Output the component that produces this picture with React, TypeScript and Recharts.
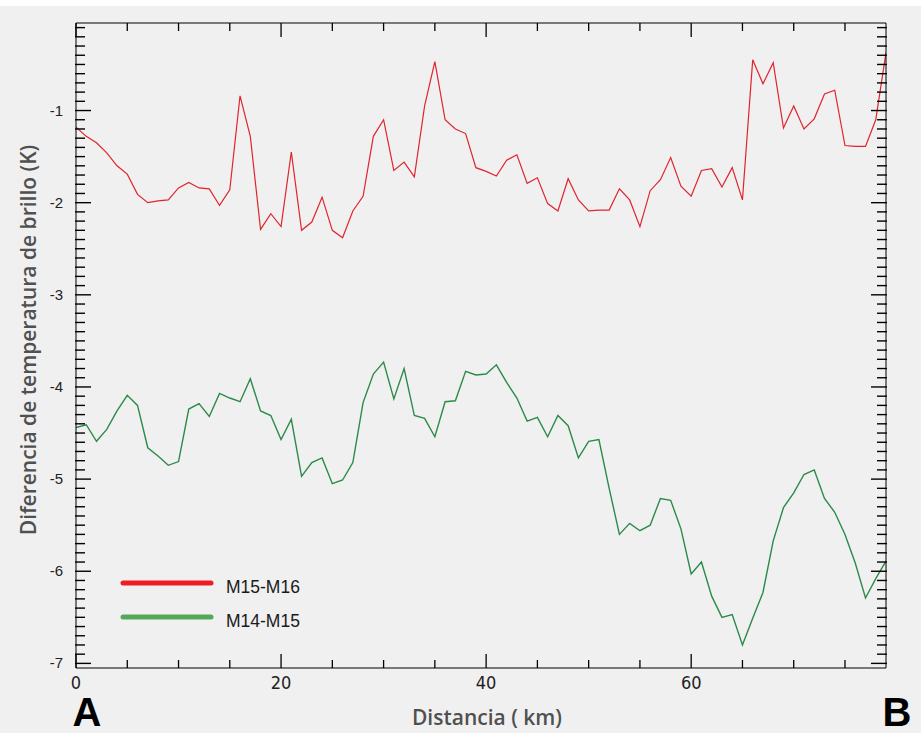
import { LineChart, Line, XAxis, YAxis, Legend } from "recharts";

// distance along the A-B transect (km)
const distanciaKm = [
  0, 1, 2, 3, 4, 5, 6, 7, 8, 9, 10, 11, 12, 13, 14, 15, 16, 17, 18, 19,
  20, 21, 22, 23, 24, 25, 26, 27, 28, 29, 30, 31, 32, 33, 34, 35, 36, 37, 38, 39,
  40, 41, 42, 43, 44, 45, 46, 47, 48, 49, 50, 51, 52, 53, 54, 55, 56, 57, 58, 59,
  60, 61, 62, 63, 64, 65, 66, 67, 68, 69, 70, 71, 72, 73, 74, 75, 76, 77, 78, 79,
];

// brightness temperature difference (K)
const m15m16 = [
  -1.18, -1.28, -1.35, -1.46, -1.6, -1.69, -1.91, -2.0, -1.98, -1.97,
  -1.84, -1.78, -1.84, -1.85, -2.03, -1.86, -0.84, -1.28, -2.29, -2.12,
  -2.26, -1.45, -2.3, -2.21, -1.94, -2.3, -2.38, -2.09, -1.93, -1.28,
  -1.1, -1.65, -1.56, -1.72, -0.95, -0.47, -1.1, -1.2, -1.25, -1.62,
  -1.66, -1.71, -1.54, -1.48, -1.79, -1.73, -2.01, -2.09, -1.74, -1.97,
  -2.09, -2.08, -2.08, -1.85, -1.97, -2.26, -1.87, -1.75, -1.51, -1.82,
  -1.93, -1.65, -1.63, -1.83, -1.62, -1.97, -0.45, -0.71, -0.48, -1.19,
  -0.95, -1.2, -1.09, -0.82, -0.78, -1.38, -1.39, -1.39, -1.1, -0.37,
];

const m14m15 = [
  -4.44, -4.41, -4.59, -4.46, -4.26, -4.09, -4.2, -4.66, -4.75, -4.85,
  -4.81, -4.24, -4.18, -4.32, -4.07, -4.12, -4.16, -3.91, -4.26, -4.31,
  -4.57, -4.35, -4.97, -4.82, -4.77, -5.05, -5.01, -4.82, -4.17, -3.86,
  -3.73, -4.13, -3.8, -4.31, -4.34, -4.54, -4.16, -4.15, -3.83, -3.87,
  -3.86, -3.76, -3.95, -4.12, -4.37, -4.33, -4.54, -4.31, -4.42, -4.77,
  -4.59, -4.57, -5.1, -5.6, -5.48, -5.56, -5.5, -5.21, -5.23, -5.54,
  -6.03, -5.9, -6.27, -6.5, -6.47, -6.8, -6.51, -6.23, -5.67, -5.31,
  -5.15, -4.95, -4.9, -5.21, -5.36, -5.6, -5.91, -6.29, -6.08, -5.89,
];

const seriesOrder = ["m15m16", "m14m15"];

const xTicks = [0, 5, 10, 15, 20, 25, 30, 35, 40, 45, 50, 55, 60, 65, 70, 75];
const xLabelTicks = [0, 20, 40, 60];
const yLabelTicks = [-7, -6, -5, -4, -3, -2, -1];

// minor y ticks every 0.1 K
const yTicks: number[] = [];
for (let k = 1; k <= 70; k++) yTicks.push(-k / 10);

const chartData = distanciaKm.map((km, i) => ({
  km,
  m15m16: m15m16[i],
  m14m15: m14m15[i],
}));

const legendColors: Record<string, string> = {
  m15m16: "#ee1c25",
  m14m15: "#55a85a",
};

const AXIS = "#000";

const LeftTick = (props: any) => {
  const { x, y, payload } = props;
  const major = yLabelTicks.includes(payload.value);
  return (
    <g>
      <line x1={x - 1} x2={x + (major ? 15 : 9)} y1={y} y2={y} stroke={AXIS} strokeWidth={1.4} />
      {major && (
        <text
          x={x - 13}
          y={y + 5}
          textAnchor="end"
          fontSize={15}
          fontFamily="'Liberation Sans', Arial, sans-serif"
          fill="#222"
        >
          {payload.value}
        </text>
      )}
    </g>
  );
};

const RightTick = (props: any) => {
  const { x, y, payload } = props;
  const major = yLabelTicks.includes(payload.value);
  return (
    <line x1={x + 1} x2={x - (major ? 15 : 9)} y1={y} y2={y} stroke={AXIS} strokeWidth={1.4} />
  );
};

const BottomTick = (props: any) => {
  const { x, y, payload } = props;
  const major = xLabelTicks.includes(payload.value);
  return (
    <g>
      <line x1={x} x2={x} y1={y} y2={y - (major ? 14 : 8)} stroke={AXIS} strokeWidth={1.3} />
      {major && (
        <text
          x={x}
          y={y + 21}
          textAnchor="middle"
          fontSize={18}
          fontFamily="'Liberation Sans Narrow', 'DejaVu Sans Condensed', sans-serif"
          fill="#222"
        >
          {payload.value}
        </text>
      )}
    </g>
  );
};

const TopTick = (props: any) => {
  const { x, y, payload } = props;
  const major = xLabelTicks.includes(payload.value);
  return (
    <line x1={x} x2={x} y1={y} y2={y + (major ? 14 : 8)} stroke={AXIS} strokeWidth={1.3} />
  );
};

const renderLegend = (props: any) => {
  const items = [...props.payload].sort(
    (a: any, b: any) => seriesOrder.indexOf(a.dataKey) - seriesOrder.indexOf(b.dataKey)
  );
  return (
    <div>
      {items.map((entry: any) => (
        <div
          key={entry.dataKey}
          style={{ display: "flex", alignItems: "center", height: 34 }}
        >
          <svg width={100} height={10}>
            <line
              x1={5}
              x2={93}
              y1={5}
              y2={5}
              stroke={legendColors[entry.dataKey]}
              strokeWidth={5}
              strokeLinecap="round"
            />
          </svg>
          <span
            style={{
              marginLeft: 8,
              position: "relative",
              top: 4,
              fontSize: 17.5,
              fontFamily: "'Liberation Sans', Arial, sans-serif",
              color: "#1a1a1a",
            }}
          >
            {entry.value}
          </span>
        </div>
      ))}
    </div>
  );
};

const bigLetter = {
  position: "absolute" as const,
  top: 706,
  transform: "translate(-50%, -50%)",
  fontFamily: "'Liberation Sans', Arial, sans-serif",
  fontWeight: 700,
  fontSize: 40,
  lineHeight: "40px",
  color: "#000",
};

export default function App() {
  return (
    <div
      style={{
        position: "absolute",
        left: 0,
        top: 0,
        width: 921,
        height: 733,
        background: "#f0f0f0",
        borderTop: "6px solid #ffffff",
        boxSizing: "border-box",
      }}
    >
      <div style={{ position: "absolute", left: 0, top: -6 }}>
        <LineChart
          width={921}
          height={733}
          data={chartData}
          margin={{ top: 22, right: 34, bottom: 64, left: 75 }}
        >
          <XAxis
            dataKey="km"
            type="number"
            domain={[0, 79]}
            allowDataOverflow
            ticks={xTicks}
            interval={0}
            height={1}
            tickSize={0}
            tickMargin={0}
            tickLine={false}
            tick={<BottomTick />}
            axisLine={{ stroke: AXIS }}
          />
          <XAxis
            xAxisId="top"
            orientation="top"
            type="number"
            domain={[0, 79]}
            allowDataOverflow
            ticks={xTicks}
            interval={0}
            height={1}
            tickSize={0}
            tickMargin={0}
            tickLine={false}
            tick={<TopTick />}
            axisLine={{ stroke: AXIS }}
          />
          <YAxis
            type="number"
            domain={[-7.05, -0.05]}
            allowDataOverflow
            ticks={yTicks}
            interval={0}
            width={1}
            tickSize={0}
            tickMargin={0}
            tickLine={false}
            tick={<LeftTick />}
            axisLine={{ stroke: AXIS }}
          />
          <YAxis
            yAxisId="right"
            orientation="right"
            type="number"
            domain={[-7.05, -0.05]}
            allowDataOverflow
            ticks={yTicks}
            interval={0}
            width={1}
            tickSize={0}
            tickMargin={0}
            tickLine={false}
            tick={<RightTick />}
            axisLine={{ stroke: AXIS }}
          />
          <Legend
            layout="vertical"
            align="center"
            verticalAlign="middle"
            content={renderLegend}
            wrapperStyle={{ left: 118, top: 566, width: 240 }}
          />
          <Line
            dataKey="m15m16"
            name="M15-M16"
            stroke="#e0242c"
            strokeWidth={1.2}
            dot={false}
            isAnimationActive={false}
          />
          <Line
            dataKey="m14m15"
            name="M14-M15"
            stroke="#2b8a4a"
            strokeWidth={1.4}
            dot={false}
            isAnimationActive={false}
          />
        </LineChart>
      </div>
      <div
        style={{
          position: "absolute",
          left: 28,
          top: 334,
          transform: "translate(-50%, -50%) rotate(-90deg)",
          whiteSpace: "nowrap",
          fontFamily: "'Open Sans', sans-serif",
          fontWeight: 600,
          fontSize: 21,
          color: "#505050",
        }}
      >
        Diferencia de temperatura de brillo (K)
      </div>
      <div
        style={{
          position: "absolute",
          left: 487,
          top: 711,
          transform: "translate(-50%, -50%)",
          whiteSpace: "nowrap",
          fontFamily: "'Open Sans', sans-serif",
          fontWeight: 600,
          fontSize: 21,
          color: "#505050",
        }}
      >
        Distancia ( km)
      </div>
      <div style={{ ...bigLetter, left: 87 }}>A</div>
      <div style={{ ...bigLetter, left: 897 }}>B</div>
    </div>
  );
}
